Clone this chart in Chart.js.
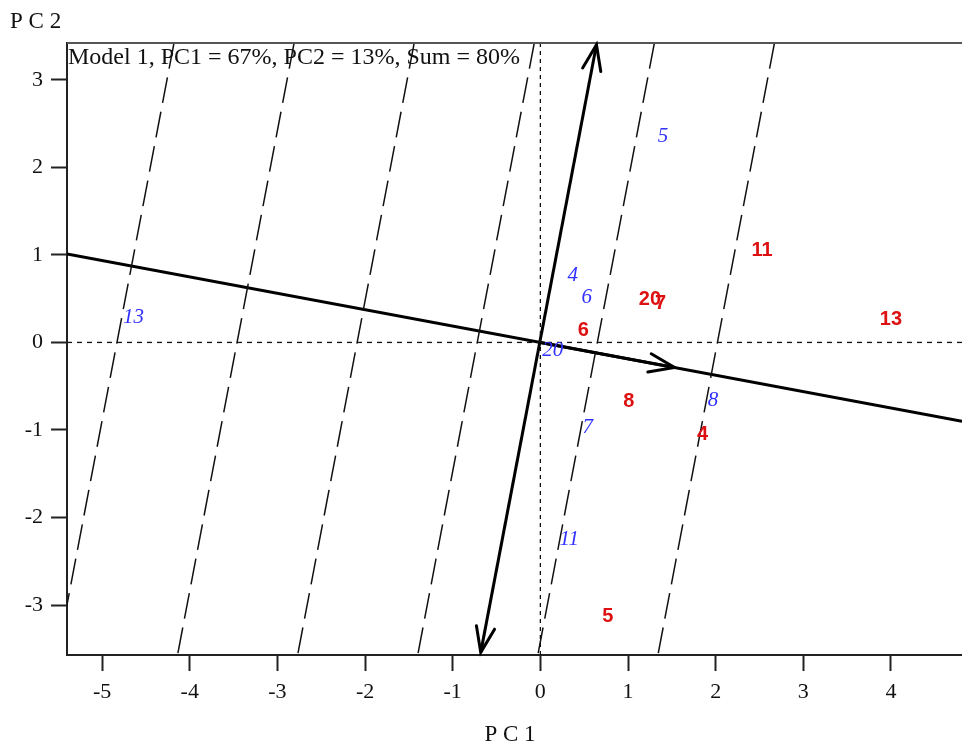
<!DOCTYPE html>
<html lang="en">
<head>
  <meta charset="UTF-8">
  <title>Model 1 biplot</title>
  <style>
    body {
      margin: 0;
      padding: 0;
      background: #fff;
    }

    .wrap {
      width: 962px;
      height: 744px;
    }
  </style>
</head>
<body>
  <div class="wrap">
    <canvas id="plot" width="962" height="744"></canvas>
  </div>

  <script src="https://cdn.jsdelivr.net/npm/chart.js@4"></script>
  <script>
    // axis ranges and ticks
    const xMin = -5.40, xMax = 4.81;
    const yMin = -3.57, yMax = 3.42;
    const xTicks = [-5, -4, -3, -2, -1, 0, 1, 2, 3, 4];
    const yTicks = [-3, -2, -1, 0, 1, 2, 3];

    // environments (blue italic)
    const envNames = ['5', '4', '6', '13', '20', '8', '7', '11'];
    const envPC1 = [1.40, 0.37, 0.53, -4.64, 0.14, 1.97, 0.54, 0.33];
    const envPC2 = [2.35, 0.76, 0.51, 0.29, -0.09, -0.66, -0.97, -2.25];

    // genotypes (red bold)
    const genNames = ['11', '13', '20', '7', '6', '8', '4', '5'];
    const genPC1 = [2.53, 4.00, 1.25, 1.37, 0.49, 1.01, 1.85, 0.77];
    const genPC2 = [1.05, 0.26, 0.49, 0.44, 0.14, -0.68, -1.05, -3.13];

    // average environment axis, its arrow and the ordinate
    const aeaSlope = -0.187;
    const aeaArrowPC1 = 1.53;
    const ordPC1 = [-0.68, 0.64];
    const ordPC2 = [-3.54, 3.40];

    // dashed lines parallel to the ordinate, where they cross PC2 = 0
    const dashCross = [-4.83, -3.46, -2.09, -0.72, 0.65, 2.02];

    const ordSlope = (ordPC2[1] - ordPC2[0]) / (ordPC1[1] - ordPC1[0]);

    const datasets = [];

    dashCross.forEach(c => {
      datasets.push({
        data: [{ x: c + yMax / ordSlope, y: yMax }, { x: c + yMin / ordSlope, y: yMin }],
        showLine: true,
        borderColor: '#111',
        borderWidth: 1.5,
        borderDash: [26, 9],
        pointRadius: 0
      });
    });

    // dotted reference lines at 0
    datasets.push({
      data: [{ x: 0, y: yMin }, { x: 0, y: yMax }],
      showLine: true, borderColor: '#111', borderWidth: 1.3, borderDash: [4, 4], pointRadius: 0
    });
    datasets.push({
      data: [{ x: xMin, y: 0 }, { x: xMax, y: 0 }],
      showLine: true, borderColor: '#111', borderWidth: 1.3, borderDash: [5, 5], pointRadius: 0
    });

    // AEA abscissa
    datasets.push({
      data: [{ x: xMin, y: xMin * aeaSlope }, { x: xMax, y: xMax * aeaSlope }],
      showLine: true, borderColor: '#000', borderWidth: 3, pointRadius: 0
    });
    const aeaArrowIdx = datasets.length;
    datasets.push({
      data: [{ x: 0, y: 0 }, { x: aeaArrowPC1, y: aeaArrowPC1 * aeaSlope }],
      showLine: true, borderColor: '#000', borderWidth: 3, pointRadius: 0
    });

    // ordinate with arrows both ends
    const ordIdx = datasets.length;
    datasets.push({
      data: [{ x: ordPC1[0], y: ordPC2[0] }, { x: ordPC1[1], y: ordPC2[1] }],
      showLine: true, borderColor: '#000', borderWidth: 3, pointRadius: 0
    });

    const envIdx = datasets.length;
    datasets.push({
      data: envPC1.map((v, i) => ({ x: v, y: envPC2[i] })),
      pointRadius: 0
    });
    const genIdx = datasets.length;
    datasets.push({
      data: genPC1.map((v, i) => ({ x: v, y: genPC2[i] })),
      pointRadius: 0
    });

    function arrowHead(ctx, from, tip) {
      const ang = Math.atan2(from.y - tip.y, from.x - tip.x);
      const len = 27, spread = 20 * Math.PI / 180;
      ctx.beginPath();
      ctx.moveTo(tip.x + len * Math.cos(ang + spread), tip.y + len * Math.sin(ang + spread));
      ctx.lineTo(tip.x, tip.y);
      ctx.lineTo(tip.x + len * Math.cos(ang - spread), tip.y + len * Math.sin(ang - spread));
      ctx.stroke();
    }

    const overlay = {
      id: 'overlay',
      afterDatasetsDraw(chart) {
        const ctx = chart.ctx;
        const area = chart.chartArea;
        ctx.save();

        // top frame line
        ctx.strokeStyle = '#555';
        ctx.lineWidth = 2;
        ctx.beginPath();
        ctx.moveTo(area.left, area.top);
        ctx.lineTo(area.right, area.top);
        ctx.stroke();

        // arrows
        ctx.strokeStyle = '#000';
        ctx.lineWidth = 3;
        ctx.lineCap = 'round';
        const a = chart.getDatasetMeta(aeaArrowIdx).data;
        arrowHead(ctx, a[0], a[1]);
        const o = chart.getDatasetMeta(ordIdx).data;
        arrowHead(ctx, o[1], o[0]);
        arrowHead(ctx, o[0], o[1]);

        // point labels
        ctx.textAlign = 'center';
        ctx.textBaseline = 'middle';
        ctx.font = 'italic 21px "Liberation Serif"';
        ctx.fillStyle = '#3030ff';
        chart.getDatasetMeta(envIdx).data.forEach((p, i) => ctx.fillText(envNames[i], p.x, p.y));
        ctx.font = 'bold 20px "Liberation Sans"';
        ctx.fillStyle = '#dd1111';
        chart.getDatasetMeta(genIdx).data.forEach((p, i) => ctx.fillText(genNames[i], p.x, p.y));

        // model note and axis titles
        ctx.fillStyle = '#111';
        ctx.textAlign = 'left';
        ctx.font = '24px "Liberation Serif"';
        ctx.fillText('Model 1, PC1 = 67%, PC2 = 13%, Sum = 80%', area.left + 1, area.top + 15);
        ctx.font = '23px "Liberation Serif"';
        ctx.fillText('P C 2', 10, 22);
        ctx.textAlign = 'center';
        ctx.fillText('P C 1', 510, 735);
        ctx.restore();
      }
    };

    const axisStyle = {
      type: 'linear',
      grid: {
        drawOnChartArea: false,
        drawTicks: true,
        tickLength: 16,
        tickColor: '#222',
        tickWidth: 2
      },
      border: { display: true, color: '#222', width: 2 },
      ticks: {
        color: '#111',
        font: { family: '"Liberation Serif"', size: 22 },
        padding: 8
      }
    };

    new Chart(document.getElementById('plot'), {
      type: 'scatter',
      data: { datasets },
      options: {
        responsive: false,
        animation: false,
        layout: { padding: { top: 43, right: 0, left: 0, bottom: 0 } },
        plugins: {
          legend: { display: false },
          tooltip: { enabled: false }
        },
        scales: {
          x: {
            ...axisStyle,
            min: xMin,
            max: xMax,
            afterBuildTicks: s => { s.ticks = xTicks.map(v => ({ value: v })); },
            afterFit: s => { s.height = 89; },
            ticks: { ...axisStyle.ticks, maxRotation: 0 }
          },
          y: {
            ...axisStyle,
            min: yMin,
            max: yMax,
            afterBuildTicks: s => { s.ticks = yTicks.map(v => ({ value: v })); },
            afterFit: s => { s.width = 67; }
          }
        }
      },
      plugins: [overlay]
    });
  </script>
</body>
</html>
